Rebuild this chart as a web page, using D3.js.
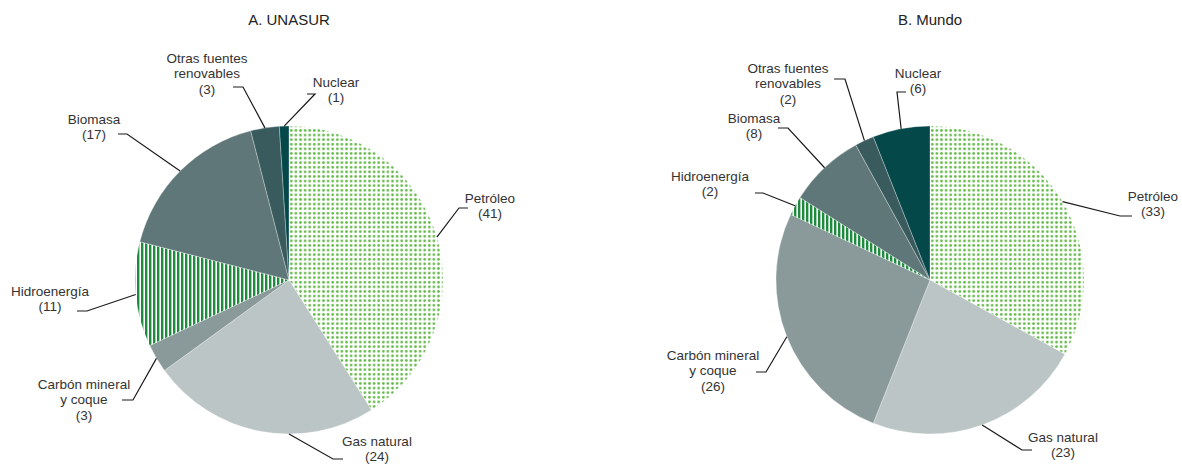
<!DOCTYPE html>
<html><head><meta charset="utf-8">
<script src="https://cdn.jsdelivr.net/npm/d3@7"></script>
<style>body{margin:0;background:#fff}svg{display:block;font-family:"Liberation Sans",Arial,sans-serif}</style>
</head><body><svg id="c" width="1182" height="465"></svg>
<script>
const categories = ["Petróleo","Gas natural","Carbón mineral y coque","Hidroenergía","Biomasa","Otras fuentes renovables","Nuclear"];
const labelLines = [["Petróleo"],["Gas natural"],["Carbón mineral","y coque"],["Hidroenergía"],["Biomasa"],["Otras fuentes","renovables"],["Nuclear"]];
const valuesUNASUR = [41,24,3,11,17,3,1];
const valuesMundo = [33,23,26,2,8,2,6];
const titles = ["A. UNASUR","B. Mundo"];

const fills = ["url(#dots)","#bcc5c5","#8a9a9b","url(#stripes)","#5f7778","#3a5b5e","#05484a"];

// label layout: text center x, first line y, elbow, end, optional anchor angle override (deg)
const layoutA = [
  {x:490,y:198,elbow:[459,208],end:[468,208]},
  {x:377,y:441,elbow:[333,459],end:[343,459],anchor:180},
  {x:84,y:384,elbow:[133,400],end:[122,400]},
  {x:50,y:291,elbow:[87,311],end:[77,311]},
  {x:94,y:119,elbow:[127,134],end:[118,134]},
  {x:207,y:58,elbow:[243,87],end:[233,87]},
  {x:336,y:82,elbow:[315,94],end:[307,94]}
];
const layoutB = [
  {x:1153,y:196,elbow:[1120,216],end:[1132,216]},
  {x:1063,y:437,elbow:[1022,450],end:[1032,450]},
  {x:713,y:355,elbow:[766,372],end:[756,372]},
  {x:710,y:176,elbow:[763,193],end:[755,193]},
  {x:754,y:118,elbow:[788,128],end:[778,128]},
  {x:788,y:68,elbow:[845,79],end:[834,79]},
  {x:918,y:73,elbow:[897,92],end:[906,92]}
];

const svg = d3.select("#c");
const defs = svg.append("defs");
const pd = defs.append("pattern").attr("id","dots").attr("patternUnits","userSpaceOnUse").attr("width",4.6).attr("height",4.6);
pd.append("rect").attr("width",4.6).attr("height",4.6).attr("fill","#fff");
pd.append("circle").attr("cx",2.3).attr("cy",2.3).attr("r",1.35).attr("fill","#5fb944");
const ps = defs.append("pattern").attr("id","stripes").attr("patternUnits","userSpaceOnUse").attr("width",4).attr("height",4);
ps.append("rect").attr("width",4).attr("height",4).attr("fill","#fff");
ps.append("rect").attr("width",2.4).attr("height",4).attr("fill","#1e8a3e");

const R = 154;
const pie = d3.pie().sort(null).value(d=>d);
const arc = d3.arc().innerRadius(0).outerRadius(R);

function drawPie(cx, cy, values, title, layout){
  const g = svg.append("g").attr("transform",`translate(${cx},${cy})`);
  const arcs = pie(values);
  g.selectAll("path").data(arcs).join("path")
    .attr("d",arc).attr("fill",(d,i)=>fills[i])
    .attr("stroke","#ffffff").attr("stroke-width",0.5).attr("stroke-opacity",0.6);
  svg.append("text").attr("x",cx).attr("y",20).attr("dy","0.35em")
    .attr("text-anchor","middle").attr("font-size",15).attr("fill","#222").text(title);
  arcs.forEach((a,i)=>{
    const L = layout[i];
    const ang = L.anchor!==undefined ? L.anchor*Math.PI/180 : (a.startAngle+a.endAngle)/2;
    const sx = cx + R*Math.sin(ang), sy = cy - R*Math.cos(ang);
    svg.append("polyline").attr("points",[[sx,sy],L.elbow,L.end].map(p=>p.join(",")).join(" "))
      .attr("fill","none").attr("stroke","#1a1a1a").attr("stroke-width",1.2);
    const lines = labelLines[i].concat([`(${values[i]})`]);
    const t = svg.append("text").attr("text-anchor","middle").attr("font-size",13.5).attr("fill","#333");
    lines.forEach((s,k)=>{
      t.append("tspan").attr("x",L.x).attr("y",L.y+k*15.5).attr("dy","0.35em").text(s);
    });
  });
}
drawPie(289,280,valuesUNASUR,titles[0],layoutA);
drawPie(930,280,valuesMundo,titles[1],layoutB);
</script></body></html>
